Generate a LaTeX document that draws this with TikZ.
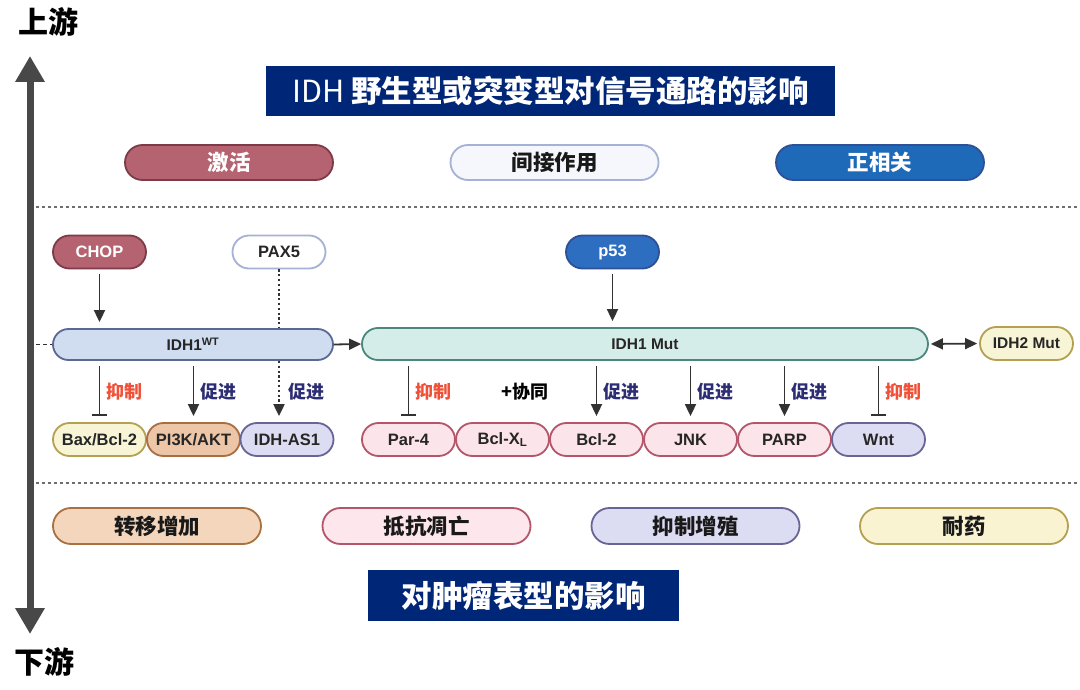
\documentclass[tikz,border=0pt]{standalone}
\usepackage{fontspec}
\setmainfont{Liberation Sans}
\newfontfamily\cjk{Noto Sans CJK SC}
\usetikzlibrary{arrows.meta,shapes.misc}
\definecolor{navy}{RGB}{0,38,119}
\definecolor{axisgray}{RGB}{72,72,72}
\definecolor{arrowgray}{RGB}{50,50,50}
\definecolor{dotgray}{RGB}{110,110,110}
\definecolor{actfill}{RGB}{181,99,112}
\definecolor{actdraw}{RGB}{125,58,72}
\definecolor{indfill}{RGB}{246,247,252}
\definecolor{inddraw}{RGB}{165,178,214}
\definecolor{posfill}{RGB}{30,106,185}
\definecolor{posdraw}{RGB}{46,80,150}
\definecolor{p53fill}{RGB}{45,110,192}
\definecolor{wtfill}{RGB}{208,220,240}
\definecolor{wtdraw}{RGB}{90,105,145}
\definecolor{mutfill}{RGB}{213,237,232}
\definecolor{mutdraw}{RGB}{75,135,125}
\definecolor{yelfill}{RGB}{248,245,215}
\definecolor{yeldraw}{RGB}{180,160,80}
\definecolor{orafill}{RGB}{236,198,166}
\definecolor{oradraw}{RGB}{168,110,65}
\definecolor{lavfill}{RGB}{220,220,242}
\definecolor{lavdraw}{RGB}{105,100,150}
\definecolor{pinkfill}{RGB}{251,228,234}
\definecolor{pinkdraw}{RGB}{180,85,105}
\definecolor{ora2fill}{RGB}{244,214,188}
\definecolor{ora2draw}{RGB}{168,113,63}
\definecolor{pink2fill}{RGB}{253,230,236}
\definecolor{yel2fill}{RGB}{250,243,210}
\definecolor{labred}{RGB}{240,80,55}
\definecolor{labnavy}{RGB}{45,45,115}
\tikzset{
  pill/.style={rounded rectangle, line width=1.8pt, minimum width=93pt, minimum height=33pt, inner sep=0pt, font=\fontsize{16.5}{19}\selectfont\bfseries, text=black!85},
  bigpill/.style={rounded rectangle, line width=1.8pt, minimum width=208pt, minimum height=35pt, inner sep=0pt, font=\cjk\bfseries\fontsize{21.5}{25}\selectfont, text=black!90},
  titlebox/.style={rectangle, fill=navy, text=white, inner sep=0pt},
  arr/.style={line width=1.8pt, draw=arrowgray, -{Triangle[length=12pt,width=11pt]}},
  inh/.style={line width=1.8pt, draw=arrowgray, -{Bar[width=15pt,line width=2.4pt]}},
  dotline/.style={line width=2pt, draw=arrowgray, dash pattern=on 2.2pt off 2.6pt},
  sepline/.style={line width=1.6pt, draw=dotgray, dash pattern=on 3pt off 3pt},
  lab/.style={anchor=west, xshift=3pt, font=\cjk\bfseries\fontsize{18}{21}\selectfont},
}
\begin{document}
\begin{tikzpicture}[x=1pt,y=-1pt]
\useasboundingbox[fill=white] (0,0) rectangle (1080,690);

% vertical axis
\coordinate (axtop) at (30,56);
\coordinate (axbot) at (30,634);
\draw[line width=7pt, draw=axisgray, {Triangle[length=26pt,width=28pt]}-{Triangle[length=26pt,width=28pt]}] (axtop) -- (axbot);
\node[font=\cjk\bfseries\fontsize{30}{33}\selectfont] (up) at (48,22) {上游};
\node[font=\cjk\bfseries\fontsize{30}{33}\selectfont] (down) at (45,662) {下游};

% titles
\node[titlebox, minimum width=569pt, minimum height=50pt, font=\cjk\fontsize{30.5}{34}\selectfont] (t1) at (550.5,91) {IDH {\bfseries 野生型或突变型对信号通路的影响}};
\node[titlebox, minimum width=311pt, minimum height=51pt, font=\cjk\bfseries\fontsize{30.5}{34}\selectfont] (t2) at (523.5,595.5) {对肿瘤表型的影响};

% legend
\node[bigpill, fill=actfill, draw=actdraw, text=white] (act) at (229,162.5) {激活};
\node[bigpill, fill=indfill, draw=inddraw] (ind) at (554.5,162.5) {间接作用};
\node[bigpill, fill=posfill, draw=posdraw, text=white] (pos) at (880,162.5) {正相关};

% separators
\coordinate (s1a) at (36,207); \coordinate (s1b) at (1080,207);
\coordinate (s2a) at (36,483); \coordinate (s2b) at (1080,483);
\draw[sepline] (s1a) -- (s1b);
\draw[sepline] (s2a) -- (s2b);

% upstream nodes
\node[pill, fill=actfill, draw=actdraw, text=white] (chop) at (99.5,252) {CHOP};
\node[pill, fill=white, draw=inddraw] (pax5) at (279,252) {PAX5};
\node[pill, fill=p53fill, draw=posdraw, text=white] (p53) at (612.5,252) {p53};

% main bars
\node[pill, fill=wtfill, draw=wtdraw, minimum width=280pt, minimum height=31pt, font=\fontsize{15.5}{18}\selectfont\bfseries] (wt) at (193,344.5) {IDH1\textsuperscript{WT}};
\node[pill, fill=mutfill, draw=mutdraw, minimum width=566pt, minimum height=32pt, font=\fontsize{15.5}{18}\selectfont\bfseries] (mut) at (645,344) {IDH1 Mut};
\node[pill, fill=yelfill, draw=yeldraw, minimum height=33pt, font=\fontsize{15.5}{18}\selectfont\bfseries] (idh2) at (1026.5,343.5) {IDH2 Mut};

% downstream targets
\node[pill, fill=yelfill, draw=yeldraw] (bax) at (99.5,439.5) {Bax/Bcl-2};
\node[pill, fill=orafill, draw=oradraw] (pi3k) at (193.5,439.5) {PI3K/AKT};
\node[pill, fill=lavfill, draw=lavdraw] (as1) at (287,439.5) {IDH-AS1};
\node[pill, fill=pinkfill, draw=pinkdraw] (par4) at (408.5,439.5) {Par-4};
\node[pill, fill=pinkfill, draw=pinkdraw] (bclxl) at (502.5,439.5) {Bcl-X\textsubscript{L}};
\node[pill, fill=pinkfill, draw=pinkdraw] (bcl2) at (596.5,439.5) {Bcl-2};
\node[pill, fill=pinkfill, draw=pinkdraw] (jnk) at (690.5,439.5) {JNK};
\node[pill, fill=pinkfill, draw=pinkdraw] (parp) at (784.5,439.5) {PARP};
\node[pill, fill=lavfill, draw=lavdraw] (wnt) at (878.5,439.5) {Wnt};

% phenotype row
\node[bigpill, fill=ora2fill, draw=ora2draw, minimum height=36pt] (meta) at (157,526) {转移增加};
\node[bigpill, fill=pink2fill, draw=pinkdraw, minimum height=36pt] (apop) at (426.5,526) {抵抗凋亡};
\node[bigpill, fill=lavfill, draw=lavdraw, minimum height=36pt] (prol) at (695.5,526) {抑制增殖};
\node[bigpill, fill=yel2fill, draw=yeldraw, minimum height=36pt] (drug) at (964,526) {耐药};

% upstream connectors
\coordinate (stub) at (36,344.5);
\draw[line width=1.5pt, draw=arrowgray, dash pattern=on 4pt off 3pt] (stub) -- (wt.west);
\draw[arr, shorten <=5pt, shorten >=6pt] (chop.south) -- (chop.south |- wt.north);
\draw[dotline] (pax5.south) -- (pax5.south |- wt.north);
\draw[arr, shorten <=5pt, shorten >=6pt] (p53.south) -- (p53.south |- mut.north);
\draw[arr] (wt.east) -- (mut.west);
\draw[line width=1.8pt, draw=arrowgray, {Triangle[length=12pt,width=11pt]}-{Triangle[length=12pt,width=11pt]}, shorten <=2pt, shorten >=2pt] (mut.east) -- (idh2.west);

% downstream connectors
\draw[inh, shorten <=5pt, shorten >=6pt] (bax.north |- wt.south) -- node[lab, text=labred] {抑制} (bax.north);
\draw[arr, shorten <=5pt, shorten >=6pt] (pi3k.north |- wt.south) -- node[lab, text=labnavy] {促进} (pi3k.north);
\draw[dotline, -{Triangle[length=12pt,width=11pt]}, shorten >=6pt] (pax5.south |- wt.south) -- node[lab, text=labnavy, xshift=2pt] {促进} (pax5.south |- as1.north);
\draw[inh, shorten <=5pt, shorten >=6pt] (par4.north |- mut.south) -- node[lab, text=labred] {抑制} (par4.north);
\node[font=\cjk\bfseries\fontsize{18}{21}\selectfont] (syn) at (525,392) {+协同};
\draw[arr, shorten <=5pt, shorten >=6pt] (bcl2.north |- mut.south) -- node[lab, text=labnavy] {促进} (bcl2.north);
\draw[arr, shorten <=5pt, shorten >=6pt] (jnk.north |- mut.south) -- node[lab, text=labnavy] {促进} (jnk.north);
\draw[arr, shorten <=5pt, shorten >=6pt] (parp.north |- mut.south) -- node[lab, text=labnavy] {促进} (parp.north);
\draw[inh, shorten <=5pt, shorten >=6pt] (wnt.north |- mut.south) -- node[lab, text=labred] {抑制} (wnt.north);
\end{tikzpicture}
\end{document}
